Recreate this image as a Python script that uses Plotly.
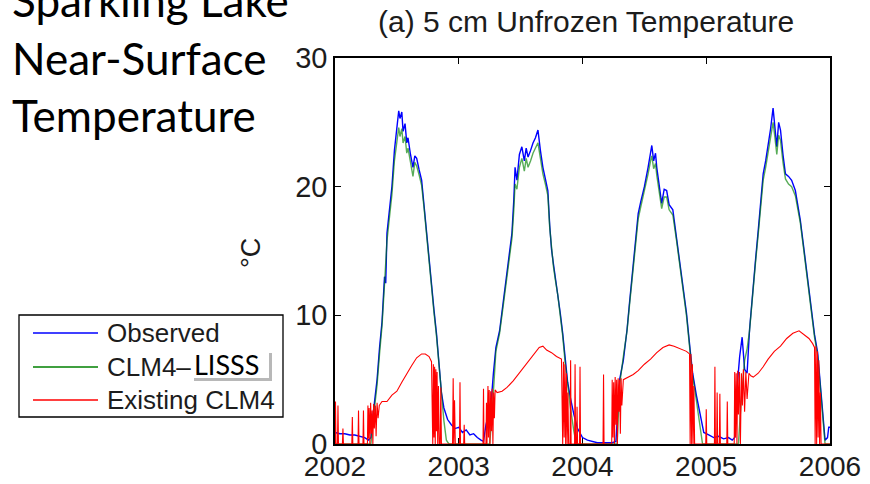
import plotly.graph_objects as go

# ---------------------------------------------------------------
# Sparkling Lake, 5 cm unfrozen water temperature (degC), 2002-2006
# time axis in decimal years
# ---------------------------------------------------------------
obs_t = [2002.00, 2002.04, 2002.08, 2002.12, 2002.16, 2002.20, 2002.24, 2002.27, 2002.29,
         2002.31, 2002.34, 2002.36, 2002.38, 2002.40, 2002.41, 2002.42, 2002.44, 2002.46,
         2002.48, 2002.50, 2002.515, 2002.525, 2002.54, 2002.55, 2002.566, 2002.58, 2002.59,
         2002.61, 2002.63, 2002.645, 2002.66, 2002.68, 2002.70, 2002.72, 2002.74, 2002.76,
         2002.78, 2002.80, 2002.82, 2002.84, 2002.86, 2002.88, 2002.91, 2002.94, 2002.97,
         2003.00, 2003.03, 2003.06, 2003.09, 2003.12, 2003.15, 2003.18, 2003.20, 2003.22,
         2003.24, 2003.26, 2003.28, 2003.30, 2003.33, 2003.36, 2003.39, 2003.41, 2003.43,
         2003.445, 2003.455, 2003.47, 2003.49, 2003.51, 2003.53, 2003.545, 2003.56, 2003.58,
         2003.60, 2003.62, 2003.64, 2003.66, 2003.68, 2003.70, 2003.72, 2003.735, 2003.75,
         2003.765, 2003.78, 2003.80, 2003.82, 2003.84, 2003.86, 2003.88, 2003.90, 2003.93,
         2003.96, 2004.00, 2004.04, 2004.08, 2004.12, 2004.16, 2004.20, 2004.24, 2004.27,
         2004.30, 2004.33, 2004.36, 2004.38, 2004.40, 2004.42, 2004.45, 2004.47, 2004.50,
         2004.53, 2004.55, 2004.56, 2004.575, 2004.59, 2004.60, 2004.62, 2004.64, 2004.66,
         2004.68, 2004.70, 2004.73, 2004.76, 2004.79, 2004.82, 2004.84, 2004.87, 2004.89,
         2004.92, 2004.95, 2004.98, 2005.02, 2005.06, 2005.10, 2005.14, 2005.18, 2005.21,
         2005.23, 2005.25, 2005.27, 2005.29, 2005.31, 2005.33, 2005.35, 2005.38, 2005.40,
         2005.42, 2005.44, 2005.46, 2005.48, 2005.50, 2005.52, 2005.54, 2005.555, 2005.57,
         2005.585, 2005.60, 2005.62, 2005.64, 2005.665, 2005.69, 2005.72, 2005.74, 2005.76,
         2005.785, 2005.81, 2005.83, 2005.85, 2005.875, 2005.90, 2005.92, 2005.94, 2005.96,
         2005.98, 2005.99, 2006.00]
obs_v = [0.9, 0.8, 0.8, 0.7, 0.7, 0.6, 0.5, 0.3, 0.5,
         2.5, 5.0, 7.5, 9.5, 13.0, 12.5, 16.4, 18.2, 20.0,
         22.8, 24.5, 25.9, 25.3, 25.8, 24.3, 24.9, 23.4, 23.8,
         22.5, 21.5, 22.4, 22.2, 21.3, 20.5, 18.5, 16.4, 14.2,
         12.2, 10.4, 8.6, 6.2, 4.0, 2.8, 1.9, 1.5, 1.2,
         1.3, 0.9, 1.1, 0.7, 0.8, 0.5, 0.3, 0.2, 1.5,
         2.2, 3.0, 5.5, 7.5, 8.8, 11.0, 13.3, 14.5, 16.4,
         19.0, 21.5, 20.5, 22.5, 23.1, 22.0, 23.0, 22.3, 22.8,
         23.4, 23.8, 24.4, 22.8, 21.5, 20.6, 19.7, 17.0, 15.1,
         14.0, 13.0, 11.8, 10.2, 8.6, 6.5, 4.8, 3.7, 2.3,
         1.2, 0.5, 0.3, 0.2, 0.1, 0.1, 0.1, 0.1, 0.2,
         5.0, 6.5, 8.9, 11.0, 13.0, 15.0, 17.9, 18.8, 20.0,
         21.5, 22.8, 23.2, 22.0, 22.6, 21.5, 20.0, 18.7, 19.8,
         19.7, 18.6, 18.2, 16.0, 13.8, 11.8, 10.2, 7.3, 5.5,
         3.8, 2.4, 0.9, 0.7, 0.5, 0.6, 0.4, 0.5, 0.3,
         0.5, 4.5, 6.8, 8.3, 5.8, 5.5, 8.9, 12.7, 14.5,
         16.6, 19.0, 21.0, 22.0, 23.1, 24.5, 26.1, 24.5, 23.1,
         25.0, 24.4, 22.5, 21.0, 20.8, 20.5, 19.7, 18.6, 17.4,
         15.5, 13.5, 11.8, 10.2, 8.5, 7.1, 5.0, 2.5, 0.3,
         0.5, 1.3, 1.3]

lisss_t = [2002.00, 2002.29, 2002.31, 2002.34, 2002.36, 2002.38, 2002.40, 2002.42, 2002.44,
           2002.46, 2002.48, 2002.50, 2002.515, 2002.525, 2002.54, 2002.55, 2002.566, 2002.58,
           2002.59, 2002.61, 2002.63, 2002.645, 2002.66, 2002.68, 2002.70, 2002.72, 2002.74,
           2002.76, 2002.78, 2002.80, 2002.82, 2002.84, 2002.86, 2002.88, 2002.90, 2002.92,
           2003.25, 2003.27, 2003.30, 2003.33, 2003.36, 2003.39, 2003.41, 2003.43, 2003.445,
           2003.455, 2003.47, 2003.49, 2003.51, 2003.53, 2003.545, 2003.56, 2003.58, 2003.60,
           2003.62, 2003.64, 2003.66, 2003.68, 2003.70, 2003.72, 2003.735, 2003.75, 2003.765,
           2003.78, 2003.80, 2003.82, 2003.84, 2003.86, 2003.88, 2003.90, 2003.93, 2003.95,
           2004.28, 2004.30, 2004.33, 2004.36, 2004.38, 2004.40, 2004.42, 2004.45, 2004.47,
           2004.50, 2004.53, 2004.55, 2004.56, 2004.575, 2004.59, 2004.60, 2004.62, 2004.64,
           2004.66, 2004.68, 2004.70, 2004.73, 2004.76, 2004.79, 2004.82, 2004.84, 2004.87,
           2004.89, 2004.92, 2004.95, 2004.97, 2005.26, 2005.28, 2005.31, 2005.33, 2005.35,
           2005.38, 2005.40, 2005.42, 2005.44, 2005.46, 2005.48, 2005.50, 2005.52, 2005.54,
           2005.555, 2005.57, 2005.585, 2005.60, 2005.62, 2005.64, 2005.665, 2005.69, 2005.72,
           2005.74, 2005.76, 2005.785, 2005.81, 2005.83, 2005.85, 2005.875, 2005.90, 2005.92,
           2005.94, 2005.96, 2006.00]
lisss_v = [0.0, 0.0, 2.0, 4.6, 7.0, 9.2, 12.4, 15.8, 17.6,
           19.4, 22.0, 23.6, 24.6, 23.9, 24.5, 23.4, 23.9, 22.6,
           23.0, 21.9, 20.8, 21.9, 21.6, 20.9, 20.1, 18.3, 16.2,
           14.0, 12.0, 10.2, 8.4, 6.0, 3.8, 1.8, 0.3, 0.0,
           0.0, 2.5, 7.2, 8.6, 10.8, 13.0, 14.2, 16.0, 18.2,
           20.2, 19.8, 21.5, 22.2, 21.2, 22.2, 21.5, 22.0, 22.6,
           23.0, 23.4, 22.2, 21.0, 20.2, 19.3, 16.8, 15.0, 13.8,
           12.8, 11.6, 10.0, 8.4, 6.3, 4.5, 3.0, 1.0, 0.0,
           0.0, 4.6, 6.8, 8.8, 10.8, 12.8, 14.8, 17.5, 18.4,
           19.6, 21.0, 22.0, 22.4, 21.4, 21.8, 20.9, 19.5, 18.3,
           19.2, 19.2, 18.2, 17.8, 15.8, 13.6, 11.6, 10.0, 7.1,
           5.3, 3.4, 1.5, 0.0, 0.0, 3.0, 6.5, 7.4, 8.8,
           12.5, 14.3, 16.3, 18.6, 20.5, 21.5, 22.6, 23.6, 25.0,
           23.8, 22.5, 24.0, 23.6, 21.9, 20.6, 20.2, 20.0, 19.3,
           18.3, 17.2, 15.3, 13.3, 11.6, 10.0, 8.3, 6.9, 4.6,
           2.0, 0.0, 0.0]

clm4_t = [2002.000, 2002.004, 2002.008, 2002.020, 2002.024, 2002.028, 2002.060, 2002.064, 2002.068,
          2002.136, 2002.140, 2002.144, 2002.186, 2002.190, 2002.194, 2002.226, 2002.230, 2002.234,
          2002.262, 2002.266, 2002.270, 2002.276, 2002.282, 2002.288, 2002.294, 2002.300, 2002.306,
          2002.312, 2002.318, 2002.326, 2002.332, 2002.340, 2002.348, 2002.358,
          2002.38, 2002.42, 2002.46, 2002.50, 2002.54, 2002.58, 2002.62, 2002.66, 2002.70,
          2002.73, 2002.76, 2002.78,
          2002.790, 2002.795, 2002.800, 2002.805, 2002.810, 2002.815, 2002.820, 2002.825, 2002.830,
          2002.836, 2002.842, 2002.850, 2002.855, 2002.860, 2002.950, 2002.955, 2002.960, 2002.966,
          2002.972, 2003.006, 2003.010, 2003.014, 2003.040, 2003.044, 2003.048, 2003.196, 2003.200,
          2003.204, 2003.220, 2003.224, 2003.228, 2003.236, 2003.240, 2003.246, 2003.252, 2003.258,
          2003.264, 2003.270, 2003.276, 2003.282, 2003.288, 2003.294,
          2003.31, 2003.35, 2003.39, 2003.44, 2003.49, 2003.55, 2003.60, 2003.65, 2003.68,
          2003.71, 2003.75, 2003.79, 2003.83,
          2003.840, 2003.846, 2003.852, 2003.858, 2003.864, 2003.870, 2003.876, 2003.882, 2003.888,
          2003.900, 2003.904, 2003.908, 2003.936, 2003.940, 2003.944, 2003.952, 2003.956, 2003.960,
          2003.976, 2003.980, 2003.984, 2004.166, 2004.170, 2004.174, 2004.236, 2004.240, 2004.246,
          2004.252, 2004.258, 2004.264, 2004.270, 2004.276, 2004.282, 2004.288, 2004.294, 2004.300,
          2004.306, 2004.312, 2004.318,
          2004.33, 2004.37, 2004.41, 2004.45, 2004.50, 2004.55, 2004.60, 2004.65, 2004.70,
          2004.74, 2004.79, 2004.84, 2004.865,
          2004.870, 2004.876, 2004.882, 2004.888, 2004.894, 2004.900, 2004.906, 2004.996, 2005.000,
          2005.004, 2005.066, 2005.070, 2005.074, 2005.084, 2005.088, 2005.092, 2005.106, 2005.110,
          2005.114, 2005.166, 2005.170, 2005.174, 2005.226, 2005.230, 2005.236, 2005.242, 2005.248,
          2005.254, 2005.260, 2005.268, 2005.276, 2005.284, 2005.292, 2005.300, 2005.310, 2005.320,
          2005.330, 2005.345,
          2005.36, 2005.38, 2005.42, 2005.46, 2005.50, 2005.55, 2005.60, 2005.65, 2005.70,
          2005.75, 2005.79, 2005.83, 2005.86, 2005.875,
          2005.880, 2005.886, 2005.892, 2005.898, 2005.904, 2005.910, 2005.916, 2005.922, 2005.928,
          2006.000]
clm4_v = [0.0, 3.3, 0.0, 0.0, 3.0, 0.0, 0.0, 1.2, 0.0,
          0.0, 2.1, 0.0, 0.0, 2.6, 0.0, 0.0, 2.6, 0.0,
          0.0, 3.0, 0.4, 2.8, 0.0, 3.2, 0.8, 2.6, 0.0,
          3.1, 1.2, 3.0, 0.6, 3.2, 2.0, 3.0,
          3.3, 3.3, 3.8, 4.1, 4.8, 5.5, 6.1, 6.7, 7.0,
          7.0, 6.8, 6.4,
          0.0, 6.2, 0.5, 6.0, 0.0, 5.8, 1.0, 5.6, 0.0,
          4.5, 0.0, 0.0, 4.4, 0.0, 0.0, 5.1, 0.0, 3.4,
          0.0, 0.0, 4.8, 0.0, 0.0, 1.5, 0.0, 0.0, 4.3,
          0.0, 0.0, 3.2, 0.0, 4.5, 0.5, 4.2, 0.0, 4.1,
          1.0, 4.3, 0.0, 4.0, 2.0, 4.2,
          4.0, 4.1, 4.4, 4.9, 5.5, 6.3, 6.9, 7.5, 7.6,
          7.3, 7.1, 6.8, 6.6,
          0.0, 6.4, 0.5, 6.2, 0.0, 5.5, 0.0, 4.0, 0.0,
          0.0, 6.5, 0.0, 0.0, 6.2, 0.0, 0.0, 2.9, 0.0,
          0.0, 6.0, 0.0, 0.0, 5.4, 0.0, 0.0, 5.0, 0.5,
          4.8, 0.0, 5.2, 1.5, 5.0, 0.0, 5.1, 2.5, 5.0,
          0.8, 5.1, 3.0,
          5.0, 5.2, 5.4, 5.7, 6.2, 6.6, 7.1, 7.5, 7.7,
          7.6, 7.4, 7.2, 7.0,
          0.0, 7.0, 0.0, 6.2, 0.0, 4.5, 0.0, 0.0, 2.7,
          0.0, 0.0, 6.0, 0.0, 0.0, 4.0, 0.0, 0.0, 3.9,
          0.0, 0.0, 3.3, 0.0, 0.0, 5.6, 0.5, 5.5, 0.0,
          5.7, 2.3, 5.6, 0.0, 5.5, 3.0, 5.8, 2.5, 5.6,
          3.5, 5.5,
          5.3, 5.2, 5.5, 6.0, 6.6, 7.2, 7.6, 8.2, 8.6,
          8.8, 8.5, 8.2, 7.8, 7.5,
          0.0, 7.6, 0.0, 7.2, 0.5, 6.5, 0.0, 4.0, 0.0,
          0.0]

series_names = ["Observed", "CLM4\u2013", "Existing CLM4"]
series_colors = ["#0000ff", "#008000", "#ff0000"]

year_ticks = [2002, 2003, 2004, 2005, 2006]
temp_ticks = [0, 10, 20, 30]

# ---------------------------------------------------------------
# canvas geometry (pixels)
# ---------------------------------------------------------------
W, H = 870, 484
ML, MR, MT, MB = 335, 40, 58, 40
PW, PH = W - ML - MR, H - MT - MB


def px(x):
    return (x - ML) / PW


def py(y):
    return (H - MB - y) / PH


AXIS_FONT = "Liberation Sans, Arial, sans-serif"
SLIDE_FONT = "Lato, Carlito, Calibri, sans-serif"
INK = "#1c1c1c"

fig = go.Figure()
fig.add_trace(go.Scatter(x=obs_t, y=obs_v, mode="lines", name=series_names[0],
                         line=dict(color=series_colors[0], width=1.4), showlegend=False))
fig.add_trace(go.Scatter(x=lisss_t, y=lisss_v, mode="lines", name="CLM4\u2013LISSS",
                         line=dict(color=series_colors[1], width=1.4), opacity=0.65,
                         showlegend=False))
fig.add_trace(go.Scatter(x=clm4_t, y=clm4_v, mode="lines", name=series_names[2],
                         line=dict(color=series_colors[2], width=1.1), showlegend=False))

axis_common = dict(
    showgrid=False, zeroline=False, showline=True, linecolor="black", linewidth=1.6,
    mirror="ticks", ticks="inside", ticklen=6, tickwidth=1.3, tickcolor="black",
    layer="below traces", automargin=False,
)
fig.update_xaxes(range=[2002, 2006], tickvals=year_ticks,
                 ticktext=[str(v) for v in year_ticks], ticklabelstandoff=-3,
                 tickfont=dict(family=AXIS_FONT, size=28, color=INK), **axis_common)
fig.update_yaxes(range=[0, 30], tickvals=temp_ticks,
                 ticktext=[str(v) for v in temp_ticks],
                 tickfont=dict(family=AXIS_FONT, size=29, color=INK), **axis_common)

annotations = []
shapes = []

# panel title
annotations.append(dict(text="(a) 5 cm Unfrozen Temperature", xref="paper", yref="paper",
                        x=px(586), y=py(22), xanchor="center", yanchor="middle",
                        showarrow=False, font=dict(family=AXIS_FONT, size=30, color=INK)))
# y-axis unit
annotations.append(dict(text="\u00b0C", xref="paper", yref="paper", x=px(251), y=py(253),
                        xanchor="center", yanchor="middle", textangle=-90, showarrow=False,
                        font=dict(family=AXIS_FONT, size=27, color=INK)))
# slide heading
for line_text, yc in [("Sparkling Lake", 0), ("Near-Surface", 58), ("Temperature", 115)]:
    annotations.append(dict(text=line_text, xref="paper", yref="paper", x=px(10), y=py(yc),
                            xanchor="left", yanchor="middle", showarrow=False,
                            font=dict(family=SLIDE_FONT, size=44, color="black")))

# legend box
shapes.append(dict(type="rect", xref="paper", yref="paper", x0=px(19), x1=px(283),
                   y0=py(417), y1=py(315), line=dict(color="black", width=1.3),
                   fillcolor="white", layer="above"))
for name, color, yc in zip(series_names, series_colors, [333, 367, 400]):
    shapes.append(dict(type="line", xref="paper", yref="paper", x0=px(33), x1=px(98),
                       y0=py(yc), y1=py(yc), line=dict(color=color, width=1.4), layer="above"))
    annotations.append(dict(text=name, xref="paper", yref="paper", x=px(105), y=py(yc),
                            xanchor="left", yanchor="middle", showarrow=False,
                            font=dict(family=AXIS_FONT, size=26, color=INK)))
# pasted "LISSS" label with its drop shadow
shapes.append(dict(type="rect", xref="paper", yref="paper", x0=px(194), x1=px(272),
                   y0=py(381), y1=py(353), line=dict(width=0),
                   fillcolor="rgba(0,0,0,0.28)", layer="above"))
shapes.append(dict(type="rect", xref="paper", yref="paper", x0=px(191), x1=px(269),
                   y0=py(378), y1=py(350), line=dict(width=0),
                   fillcolor="white", layer="above"))
annotations.append(dict(text="LISSS", xref="paper", yref="paper", x=px(192), y=py(364),
                        xanchor="left", yanchor="middle", showarrow=False,
                        font=dict(family=SLIDE_FONT, size=27, color="black")))

fig.update_layout(
    width=W, height=H, margin=dict(l=ML, r=MR, t=MT, b=MB),
    paper_bgcolor="white", plot_bgcolor="white",
    showlegend=False, shapes=shapes, annotations=annotations,
)

fig.write_html("out.html")
